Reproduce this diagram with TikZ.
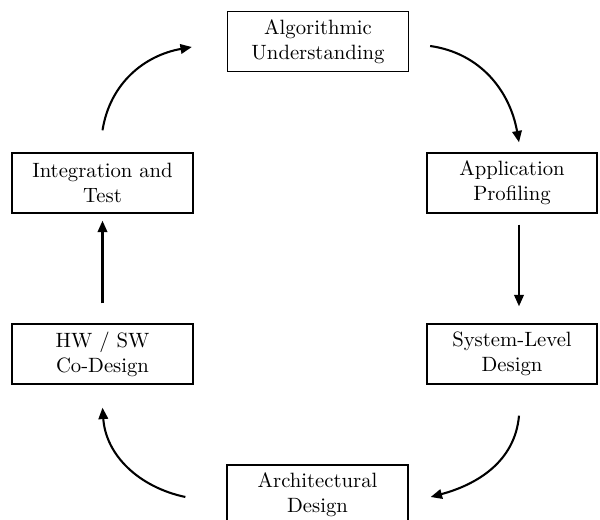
\documentclass[tikz,border=0pt]{standalone}
\usepackage{amsmath}
\usepackage{tikz}
\usetikzlibrary{arrows.meta}

\begin{document}
\begin{tikzpicture}[x=0.483pt, y=-0.483pt,
    stage/.style={draw, line width=0.65pt, align=center, inner sep=0pt,
        minimum width=87.4pt, minimum height=29pt},
    flow/.style={-{Triangle[length=5.5pt,width=4.6pt]}, line width=1pt}]
    \useasboundingbox (0,0) rectangle (600,520);
    \node[stage] (alg) at (318,41.5) {Algorithmic\\Understanding};
    \node[stage, minimum width=82pt] (app) at (512,183) {Application\\Profiling};
    \node[stage, minimum width=82pt] (sys) at (512,354) {System-Level\\Design};
    \node[stage] (arch) at (317.5,495) {Architectural\\Design};
    \node[stage] (hw) at (102.5,354) {HW / SW\\Co-Design};
    \node[stage] (integ) at (102.5,183) {Integration and\\Test};

    \draw[flow] ([shift={(0,-22)}]integ.north) to[out=81,in=190] ([shift={(-35,5.5)}]alg.west);
    \draw[flow] ([shift={(21,4.5)}]alg.east) to[out=-8,in=100] ([shift={(7,-10)}]app.north);
    \draw[flow] ([shift={(7,11)}]app.south) -- ([shift={(7,-17)}]sys.north);
    \draw[flow] ([shift={(7,31)}]sys.south) to[out=-95,in=15] ([shift={(22,2)}]arch.east);
    \draw[flow] ([shift={(-41,2)}]arch.west) to[out=168,in=-86] ([shift={(0,23)}]hw.south);
    \draw[flow] ([shift={(0,-20)}]hw.north) -- ([shift={(0,7)}]integ.south);
\end{tikzpicture}
\end{document}
